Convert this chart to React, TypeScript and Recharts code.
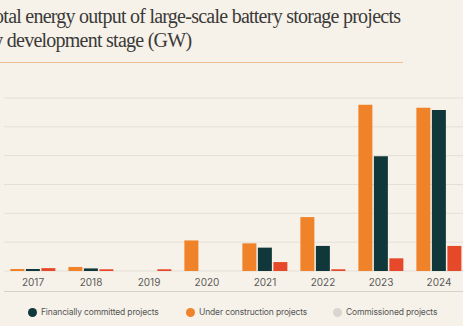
import React from "react";
import { BarChart, Bar, XAxis, YAxis, CartesianGrid } from "recharts";

const years = ["2017", "2018", "2019", "2020", "2021", "2022", "2023", "2024"];
const underConstruction = [0.07, 0.14, 0, 1.06, 0.96, 1.87, 5.77, 5.66];
const financiallyCommitted = [0.07, 0.09, 0, 0, 0.81, 0.87, 3.98, 5.58];
const commissioned = [0.1, 0.06, 0.06, 0, 0.31, 0.06, 0.44, 0.87];
const yTicks = [0, 1, 2, 3, 4, 5, 6];

const legendItems = [
  { label: "Financially committed projects", color: "#10383a", x: 28 },
  { label: "Under construction projects", color: "#f0832a", x: 186 },
  { label: "Commissioned projects", color: "#d9d6d1", x: 333 },
];

const data = years.map((y, i) => ({
  year: y,
  uc: underConstruction[i],
  fc: financiallyCommitted[i],
  cm: commissioned[i],
}));

export default function App() {
  return (
    <div
      style={{
        position: "fixed",
        left: 0,
        top: 0,
        width: 463,
        height: 326,
        overflow: "hidden",
        background: "#f6f2ea",
      }}
    >
      <div
        style={{
          position: "absolute",
          left: -16,
          top: 4,
          width: 480,
          fontFamily: "'Liberation Serif', serif",
          fontSize: 20,
          lineHeight: "24px",
          letterSpacing: "-0.75px",
          color: "#3b3a38",
          whiteSpace: "nowrap",
        }}
      >
        <div>Total energy output of large-scale battery storage projects</div>
        <div>by development stage (GW)</div>
      </div>
      <div
        style={{
          position: "absolute",
          left: 0,
          top: 62,
          width: 403,
          height: 1,
          background: "#efbf92",
        }}
      />
      <div style={{ position: "absolute", left: 0, top: 0 }}>
        <BarChart
          width={468}
          height={300}
          data={data}
          margin={{ top: 98, right: 0, bottom: 0, left: 4 }}
          barCategoryGap="11%"
          barGap={1.5}
        >
          <CartesianGrid vertical={false} stroke="#e4dfd6" />
          <YAxis hide domain={[0, 6]} ticks={yTicks} />
          <XAxis
            dataKey="year"
            axisLine={false}
            tickLine={false}
            height={29}
            tick={{ fontSize: 10, fill: "#5a5a58", fontFamily: "Inter, sans-serif" }}
          />
          <Bar dataKey="uc" fill="#f0832a" isAnimationActive={false} />
          <Bar dataKey="fc" fill="#10383a" isAnimationActive={false} />
          <Bar dataKey="cm" fill="#e5492a" isAnimationActive={false} />
        </BarChart>
      </div>
      <div
        style={{
          position: "absolute",
          left: 4,
          top: 291,
          width: 470,
          height: 1,
          background: "#d6d2cb",
        }}
      />
      {legendItems.map((it) => (
        <div
          key={it.label}
          style={{
            position: "absolute",
            left: it.x,
            top: 305,
            height: 14,
            display: "flex",
            alignItems: "center",
            fontFamily: "Inter, sans-serif",
            fontSize: 8.5,
            letterSpacing: "-0.15px",
            color: "#555553",
            whiteSpace: "nowrap",
          }}
        >
          <span
            style={{
              display: "inline-block",
              width: 9,
              height: 9,
              borderRadius: "50%",
              background: it.color,
              marginRight: 4,
            }}
          />
          {it.label}
        </div>
      ))}
    </div>
  );
}
